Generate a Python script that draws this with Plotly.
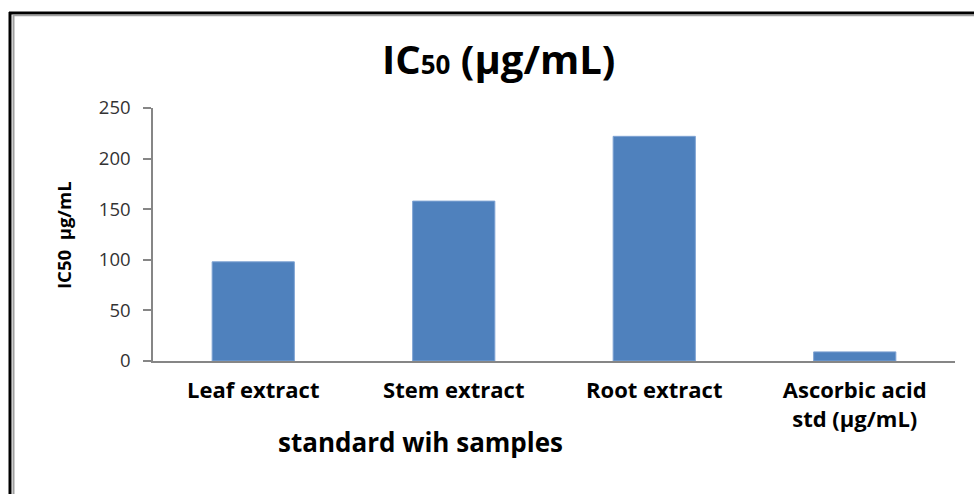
import plotly.graph_objects as go

# IC50 values (µg/mL) for each extract and the ascorbic acid standard
categories = ["Leaf extract", "Stem extract", "Root extract", "Ascorbic acid<br>std (μg/mL)"]
ic50_values = [98, 158, 222, 9]
y_ticks = [0, 50, 100, 150, 200, 250]

W, H = 974, 494
L, R, T, B = 153, 19, 108, 133
PW, PH = W - L - R, H - T - B


def px(x):
    return (x - L) / PW


def py(y):
    return 1 - (y - T) / PH


FONT = "Open Sans"
BAR = "#4F81BD"
AXIS = "#868686"

fig = go.Figure()
fig.add_trace(go.Bar(
    x=categories,
    y=ic50_values,
    marker=dict(color=BAR, line=dict(color="#7FA3D3", width=1)),
    width=0.41,
    hoverinfo="x+y",
))

fig.update_layout(
    width=W, height=H,
    margin=dict(l=L, r=R, t=T, b=B, pad=0),
    paper_bgcolor="white",
    plot_bgcolor="white",
    showlegend=False,
    font=dict(family=FONT, color="#000000"),
    xaxis=dict(
        showline=True, linecolor=AXIS, linewidth=1.5,
        ticks="", showgrid=False, zeroline=False,
        tickfont=dict(family=FONT, size=22, color="#000000", weight="bold"),
        ticklabelstandoff=9,
    ),
    yaxis=dict(
        range=[0, 250], tickvals=y_ticks,
        showline=True, linecolor=AXIS, linewidth=1.5,
        ticks="outside", ticklen=8, tickcolor=AXIS, tickwidth=1.5,
        showgrid=False, zeroline=False,
        tickfont=dict(family=FONT, size=18.5, color="#333333"),
        ticklabelstandoff=9,
    ),
)

annotations = [
    dict(text="IC<span style='font-size:26px'>50</span> (μg/mL)",
         x=px(498), y=py(58), xref="paper", yref="paper",
         showarrow=False, xanchor="center", yanchor="middle",
         font=dict(family=FONT, size=40, color="#000000", weight="bold")),
    dict(text="standard wih samples",
         x=px(420), y=py(442), xref="paper", yref="paper",
         showarrow=False, xanchor="center", yanchor="middle",
         font=dict(family=FONT, size=26, color="#000000", weight="bold")),
    dict(text="IC50  μg/mL", textangle=-90,
         x=px(63), y=py(235), xref="paper", yref="paper",
         showarrow=False, xanchor="center", yanchor="middle",
         font=dict(family=FONT, size=18.5, color="#000000", weight="bold")),
]
fig.update_layout(annotations=annotations)

# Double frame around the chart area (top and left edges)
shapes = [
    dict(type="line", xref="paper", yref="paper",
         x0=px(10), x1=px(10), y0=py(12), y1=py(H + 5),
         line=dict(color="#000000", width=3)),
    dict(type="line", xref="paper", yref="paper",
         x0=px(9), x1=px(W + 5), y0=py(13), y1=py(13),
         line=dict(color="#000000", width=3)),
    dict(type="line", xref="paper", yref="paper",
         x0=px(13.5), x1=px(13.5), y0=py(15), y1=py(H + 5),
         line=dict(color="#A0A0A0", width=2)),
    dict(type="line", xref="paper", yref="paper",
         x0=px(13), x1=px(W + 5), y0=py(15.5), y1=py(15.5),
         line=dict(color="#A0A0A0", width=1.5)),
]
fig.update_layout(shapes=shapes)

fig.write_html("out.html")
